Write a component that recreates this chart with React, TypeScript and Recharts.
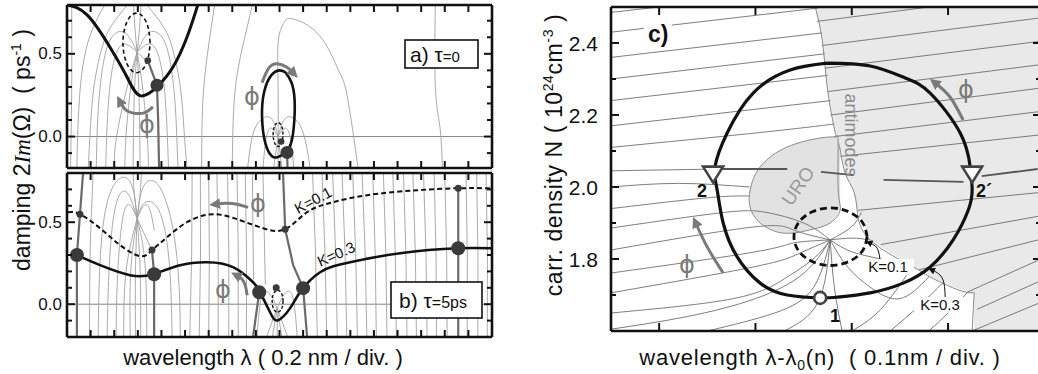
import React from "react";
import { Area, ComposedChart, Line, ReferenceLine, Scatter, XAxis, YAxis } from "recharts";

type P = number[];
const pts = (a: P[]) => a.map(([x, y]) => ({ x, y }));
const rng = (a: P[]) => a.map(([x, lo, hi]) => ({ x, r: [lo, hi] }));

const FONT = "'Liberation Sans', Arial, sans-serif";
const GREY_PHI = "#7a7a7a";

// ---------- ticks ----------
const abXTicks = [1, 2, 3, 4, 5, 6, 7, 8, 9, 10, 11, 12, 13, 14, 15, 16, 17];
const abYTicks = [-0.1, 0, 0.1, 0.2, 0.3, 0.4, 0.5, 0.6, 0.7];
const abYLabels = [0, 0.5];
const cXTicks = [1, 2, 3, 4];
const cYTicks = [1.7, 1.8, 1.9, 2.0, 2.1, 2.2, 2.3, 2.4];
const cYLabels = [1.8, 2.0, 2.2, 2.4];

// ---------- panel a (tau = 0) ----------
const aMain: P[] = [[0, 0.795], [0.85, 0.735], [1.82, 0.54], [2.54, 0.36], [3.09, 0.247], [3.81, 0.3], [4.49, 0.42], [5.08, 0.6], [5.55, 0.8]];
const aDashLoop: P[] = [[3.52, 0.566], [3.44, 0.656], [3.23, 0.722], [2.945, 0.746], [2.66, 0.722], [2.45, 0.656], [2.37, 0.566], [2.45, 0.476], [2.66, 0.41], [2.945, 0.386], [3.23, 0.41], [3.44, 0.476], [3.52, 0.566]];
const aSolidLoop: P[] = [[9.24, 0.39], [9.5, 0.33], [9.64, 0.22], [9.6, 0.05], [9.4, -0.07], [9.0, -0.12], [8.69, -0.12], [8.4, -0.04], [8.26, 0.12], [8.35, 0.27], [8.65, 0.37], [9.0, 0.4], [9.24, 0.39]];
const aSmallLoop: P[] = [[9.15, 0.012], [9.12, 0.048], [9.045, 0.074], [8.94, 0.084], [8.835, 0.074], [8.76, 0.048], [8.73, 0.012], [8.76, -0.024], [8.835, -0.05], [8.94, -0.06], [9.045, -0.05], [9.12, -0.024], [9.15, 0.012]];
const aBigDots: P[] = [[3.81, 0.31], [9.32, -0.096]];
const aSmallDots: P[] = [[3.42, 0.46], [9.07, -0.03]];
const aGreyThick: P[][] = [
  [[3.42, 0.46], [3.81, 0.31], [3.86, 0.1], [3.9, -0.19]],
  [[9.32, -0.096], [9.34, -0.19]],
];
const aContours: P[][] = [
  [[0.2, 0.8], [0.2, 0.3], [0.15, -0.19]],
  [[2.97, 0.51], [2.62, 0.55], [2.28, 0.55], [1.98, 0.45], [1.78, 0.25], [1.68, 0.0], [1.64, -0.19]],
  [[2.97, 0.51], [2.52, 0.62], [2.02, 0.62], [1.62, 0.5], [1.37, 0.25], [1.27, 0.0], [1.24, -0.19]],
  [[2.55, 0.795], [1.84, 0.66], [1.45, 0.52], [1.14, 0.3], [0.99, 0.05], [0.9, -0.19]],
  [[1.6, 0.795], [1.0, 0.62], [0.6, 0.35], [0.45, 0.0], [0.42, -0.19]],
  [[2.97, 0.51], [3.3, 0.55], [3.65, 0.55], [3.95, 0.45], [4.15, 0.25], [4.25, 0.0], [4.3, -0.19]],
  [[2.97, 0.51], [3.4, 0.62], [3.9, 0.62], [4.3, 0.5], [4.55, 0.25], [4.65, 0.0], [4.7, -0.19]],
  [[3.39, 0.795], [4.1, 0.66], [4.49, 0.52], [4.8, 0.3], [4.95, 0.05], [5.08, -0.19]],
  [[2.97, 0.51], [2.88, 0.65], [2.82, 0.795]],
  [[2.97, 0.51], [3.07, 0.65], [3.13, 0.795]],
  [[2.97, 0.51], [2.55, 0.3], [2.1, 0.0], [2.0, -0.19]],
  [[2.97, 0.51], [2.7, 0.3], [2.5, 0.0], [2.45, -0.19]],
  [[2.97, 0.51], [2.85, 0.25], [2.8, -0.19]],
  [[2.97, 0.51], [3.05, 0.25], [3.1, -0.19]],
  [[2.97, 0.51], [3.2, 0.3], [3.4, 0.0], [3.45, -0.19]],
  [[2.97, 0.51], [3.2, 0.48], [3.42, 0.46]],
  [[5.7, -0.19], [5.75, 0.2], [5.95, 0.5], [6.25, 0.795]],
  [[7.0, -0.19], [7.1, 0.25], [7.45, 0.55], [7.85, 0.795]],
  [[8.94, -0.19], [8.94, 0.3], [8.95, 0.58], [9.2, 0.69], [9.6, 0.71], [10.7, 0.61], [11.5, 0.4], [11.86, 0.25], [12.33, -0.19]],
  [[8.94, 0.0], [9.25, 0.11], [9.7, 0.1], [10.05, 0.0], [10.3, -0.19]],
  [[8.94, 0.0], [8.65, 0.11], [8.2, 0.1], [7.85, 0.0], [7.65, -0.19]],
  [[8.94, 0.0], [9.2, 0.05], [9.45, 0.0], [9.6, -0.19]],
  [[8.94, 0.0], [8.68, 0.05], [8.45, 0.0], [8.3, -0.19]],
  [[8.94, 0.0], [8.75, -0.19]],
  [[8.94, 0.0], [9.1, -0.19]],
  [[15.6, 0.795], [15.6, 0.3], [15.8, 0.05], [15.9, -0.19]],
];
const aArrows: P[][] = [
  [[8.26, 0.325], [8.55, 0.415], [8.9, 0.44], [9.3, 0.42], [9.58, 0.385]],
  [[3.64, 0.18], [3.3, 0.145], [2.9, 0.14], [2.5, 0.16], [2.25, 0.21]],
];

// ---------- panel b (tau = 5 ps) ----------
const bK01: P[] = [[0.04, 0.561], [0.55, 0.549], [1.4, 0.463], [2.25, 0.36], [3.09, 0.293], [3.6, 0.329], [4.24, 0.409], [5.08, 0.5], [6.19, 0.549], [7.33, 0.512], [8.31, 0.463], [9.24, 0.457], [10.17, 0.561], [11.27, 0.622], [12.71, 0.665], [14.83, 0.695], [16.57, 0.707], [18.0, 0.707]];
const bK03: P[] = [[0.42, 0.299], [1.4, 0.238], [2.67, 0.177], [3.64, 0.183], [4.79, 0.238], [5.93, 0.256], [7.03, 0.226], [7.88, 0.134], [8.18, 0.073], [8.6, -0.049], [8.94, -0.098], [9.45, -0.024], [9.87, 0.073], [10.72, 0.195], [11.99, 0.256], [14.11, 0.311], [16.57, 0.341], [18.0, 0.341]];
const bSmallLoop: P[] = [[9.15, 0.018], [9.12, 0.052], [9.035, 0.076], [8.92, 0.085], [8.805, 0.076], [8.72, 0.052], [8.69, 0.018], [8.72, -0.016], [8.805, -0.04], [8.92, -0.049], [9.035, -0.04], [9.12, -0.016], [9.15, 0.018]];
const bBigDots: P[] = [[0.42, 0.3], [3.69, 0.183], [8.14, 0.073], [10.0, 0.098], [16.57, 0.341]];
const bSmallDots: P[] = [[0.55, 0.549], [3.6, 0.33], [9.24, 0.457], [16.57, 0.707], [8.86, 0.1]];
const bGreyThick: P[][] = [
  [[0.68, 0.8], [0.55, 0.549], [0.42, 0.3], [0.42, -0.2]],
  [[3.6, 0.33], [3.69, 0.183], [3.69, -0.2]],
  [[9.15, 0.8], [9.24, 0.457], [9.58, 0.238], [10.0, 0.098], [10.17, -0.2]],
  [[16.57, 0.707], [16.57, 0.341], [16.57, -0.2]],
  [[8.14, 0.073], [7.88, -0.2]],
];
const bContours: P[][] = [
  [[2.97, 0.524], [2.7, 0.6], [2.45, 0.58], [2.25, 0.4], [2.12, 0.1], [2.08, -0.2]],
  [[2.97, 0.524], [2.6, 0.67], [2.2, 0.66], [1.9, 0.45], [1.75, 0.1], [1.7, -0.2]],
  [[2.97, 0.524], [2.7, 0.74], [2.1, 0.75], [1.6, 0.55], [1.38, 0.2], [1.32, -0.2]],
  [[2.97, 0.524], [3.25, 0.6], [3.5, 0.58], [3.7, 0.45]],
  [[2.97, 0.524], [3.3, 0.62], [3.9, 0.57], [4.3, 0.3], [4.42, 0.0], [4.45, -0.2]],
  [[2.97, 0.524], [3.25, 0.72], [3.9, 0.72], [4.5, 0.45], [4.75, 0.1], [4.8, -0.2]],
  [[2.97, 0.524], [2.85, 0.68], [2.8, 0.8]],
  [[2.97, 0.524], [3.1, 0.68], [3.15, 0.8]],
  [[2.97, 0.524], [2.5, 0.2], [2.4, -0.2]],
  [[2.97, 0.524], [2.7, 0.2], [2.68, -0.2]],
  [[2.97, 0.524], [2.9, 0.2], [2.9, -0.2]],
  [[2.97, 0.524], [3.1, 0.2], [3.12, -0.2]],
  [[2.97, 0.524], [3.3, 0.25], [3.38, -0.2]],
  [[2.97, 0.524], [3.3, 0.42], [3.6, 0.33]],
  [[0.95, -0.2], [0.98, 0.3], [1.05, 0.6], [1.1, 0.8]],
  [[8.9, -0.024], [8.6, 0.06], [8.25, 0.05], [8.05, -0.2]],
  [[8.9, -0.024], [9.2, 0.06], [9.55, 0.05], [9.75, -0.2]],
  [[8.9, -0.024], [8.7, -0.2]],
  [[8.9, -0.024], [8.9, -0.2]],
  [[8.9, -0.024], [9.1, -0.2]],
  [[8.9, -0.024], [8.45, -0.2]],
  [[8.9, -0.024], [9.35, -0.2]],
  [[7.9, 0.15], [7.85, 0.8]],
  [[8.4, 0.12], [8.3, 0.8]],
];
// near-vertical contour lines: [x at bottom, x at top]
const bVerticals: P[] = [
  [5.2, 5.3], [5.6, 5.65], [6.0, 6.0], [6.4, 6.35], [6.85, 6.8], [7.25, 7.2], [7.6, 7.55],
  [10.6, 10.4], [11.0, 10.8], [11.45, 11.25], [11.85, 11.65], [12.3, 12.1], [12.7, 12.5], [13.1, 12.95],
  [13.55, 13.4], [13.95, 13.8], [14.4, 14.25], [14.8, 14.65], [15.25, 15.1], [15.65, 15.55], [16.1, 16.0],
  [16.95, 16.9], [17.4, 17.35], [17.8, 17.75],
];
const bArrows: P[][] = [
  [[7.67, 0.59], [7.2, 0.61], [6.7, 0.615], [6.3, 0.61]],
  [[7.63, 0.055], [7.55, 0.115], [7.4, 0.155], [7.2, 0.175]],
];

// ---------- panel c (carrier density) ----------
const cShade = rng([
  [2.62, 2.5, 2.5], [2.693, 2.408, 2.5], [2.745, 2.278, 2.5], [2.807, 2.178, 2.5], [2.838, 2.139, 2.5],
  [2.88, 2.103, 2.5], [2.931, 2.039, 2.5], [3.015, 1.992, 2.5], [3.056, 1.936, 2.5], [3.191, 1.853, 2.5],
  [3.638, 1.778, 2.5], [3.814, 1.75, 2.5], [4.178, 1.708, 2.5], [4.27, 1.7, 2.5], [4.271, 1.6, 2.5], [4.965, 1.6, 2.5],
]);
const cUroShade = rng([
  [1.94, 1.944, 1.992], [2.049, 1.9, 2.056], [2.288, 1.872, 2.105], [2.568, 1.881, 2.131],
  [2.776, 1.9, 2.139], [2.86, 1.93, 2.135], [2.88, 1.936, 2.11],
]);
const cEdges: P[][] = [
  [[2.62, 2.5], [2.693, 2.408], [2.745, 2.278], [2.807, 2.178], [2.838, 2.139]],
  [[2.838, 2.139], [2.672, 2.136], [2.329, 2.111], [2.049, 2.056], [1.945, 1.992], [1.945, 1.944], [2.049, 1.9], [2.288, 1.872], [2.568, 1.881], [2.776, 1.9], [2.88, 1.936], [2.859, 1.992], [2.859, 2.122], [2.838, 2.139]],
  [[2.859, 2.122], [2.88, 2.103], [2.931, 2.039], [3.015, 1.992], [3.056, 1.936], [3.191, 1.853], [3.638, 1.778], [3.814, 1.75], [4.178, 1.708], [4.27, 1.7], [4.25, 1.6]],
];
const cContours: P[][] = [
  [[0.5, 2.485], [1.0, 2.5]],
  [[0.5, 2.43], [2.65, 2.497]],
  [[0.5, 2.36], [2.69, 2.428]],
  [[0.5, 2.3], [2.72, 2.37]],
  [[0.5, 2.24], [2.75, 2.31]],
  [[0.5, 2.17], [2.78, 2.24]],
  [[0.5, 2.11], [2.0, 2.15], [2.82, 2.175]],
  [[0.5, 2.045], [1.63, 2.05]],
  [[0.5, 2.0], [1.2, 2.01], [1.94, 2.0]],
  [[0.5, 1.94], [1.5, 1.97], [1.94, 1.975]],
  [[0.5, 1.886], [1.63, 1.928], [2.1, 1.93], [2.5, 1.9], [2.776, 1.853]],
  [[0.5, 1.825], [1.98, 1.889], [2.4, 1.88], [2.776, 1.853]],
  [[0.5, 1.761], [2.0, 1.82], [2.4, 1.845], [2.776, 1.853]],
  [[0.5, 1.706], [1.98, 1.778], [2.45, 1.815], [2.776, 1.853]],
  [[0.5, 1.65], [1.77, 1.69], [2.3, 1.745], [2.6, 1.8], [2.776, 1.853]],
  [[0.5, 1.605], [1.29, 1.64], [2.0, 1.69], [2.5, 1.76], [2.776, 1.853]],
  [[1.5, 1.6], [2.2, 1.65], [2.6, 1.72], [2.776, 1.853]],
  [[2.3, 1.6], [2.65, 1.68], [2.776, 1.853]],
  [[2.9, 1.6], [2.82, 1.72], [2.776, 1.853]],
  [[2.776, 1.853], [3.0, 1.89], [3.1, 1.93]],
  [[2.776, 1.853], [3.0, 1.858], [3.19, 1.853]],
  [[2.776, 1.853], [3.0, 1.82], [3.3, 1.8], [3.6, 1.778]],
  [[2.776, 1.853], [2.95, 1.78], [3.2, 1.72], [3.5, 1.69], [3.8, 1.75]],
  [[3.0, 1.6], [3.3, 1.66], [3.62, 1.775]],
  [[3.4, 1.6], [3.7, 1.67], [3.95, 1.735]],
  [[3.8, 1.6], [4.0, 1.65], [4.2, 1.707]],
  [[2.64, 2.46], [3.8, 2.5]],
  [[2.69, 2.393], [4.965, 2.47]],
  [[2.72, 2.33], [4.965, 2.405]],
  [[2.75, 2.265], [4.965, 2.34]],
  [[2.78, 2.2], [4.965, 2.275]],
  [[2.82, 2.14], [4.965, 2.21]],
  [[2.88, 2.085], [4.965, 2.145]],
  [[3.06, 1.935], [4.965, 1.985]],
  [[3.3, 1.84], [4.965, 1.92]],
  [[3.7, 1.77], [4.965, 1.855]],
  [[4.2, 1.708], [4.965, 1.8]],
  [[4.3, 1.66], [4.965, 1.74]],
  [[4.25, 1.6], [4.965, 1.68]],
];
const cModeLine: P[][] = [
  [[1.63, 2.05], [2.33, 2.05]],
  [[2.68, 2.042], [3.02, 2.033]],
  [[3.33, 2.02], [4.16, 2.014]],
  [[4.35, 2.03], [4.93, 2.05]],
];
const cCircle: P[] = [[2.745, 2.344], [3.191, 2.336], [3.555, 2.303], [3.814, 2.261], [4.126, 2.15], [4.23, 2.056], [4.25, 1.992], [4.21, 1.936], [4.053, 1.853], [3.814, 1.778], [3.534, 1.733], [3.191, 1.706], [2.848, 1.694], [2.672, 1.692], [2.329, 1.7], [2.049, 1.733], [1.81, 1.806], [1.665, 1.9], [1.602, 1.992], [1.58, 2.056], [1.706, 2.15], [1.976, 2.261], [2.36, 2.325], [2.745, 2.344]];
const cDashLoop: P[] = [[3.16, 1.862], [3.11, 1.902], [2.97, 1.931], [2.78, 1.942], [2.59, 1.931], [2.45, 1.902], [2.4, 1.862], [2.45, 1.822], [2.59, 1.793], [2.78, 1.782], [2.97, 1.793], [3.11, 1.822], [3.16, 1.862]];
const cTriangles: P[] = [[1.56, 2.04], [4.25, 2.04]];
const cStart: P[] = [[2.672, 1.692]];
const cPhiArrows: P[][] = [
  [[1.665, 1.761], [1.5, 1.833], [1.38, 1.9]],
  [[4.157, 2.186], [4.02, 2.25], [3.866, 2.289]],
];
const cKArrows: P[][] = [
  [[3.295, 1.792], [3.264, 1.83], [3.17, 1.846]],
  [[3.97, 1.694], [3.94, 1.747], [3.82, 1.771]],
];

// ---------- helpers ----------
function tick(side: string, len: number, majorLen: number, majors: number[], label?: { size: number; gap: number }) {
  return (p: any) => {
    const v = p.payload.value;
    const major = majors.includes(v);
    const l = major ? majorLen : len;
    const { x, y } = p;
    let x2 = x;
    let y2 = y;
    if (side === "left") x2 = x + l;
    else if (side === "right") x2 = x - l;
    else if (side === "top") y2 = y + l;
    else y2 = y - l;
    return (
      <g>
        <line x1={x} y1={y} x2={x2} y2={y2} stroke="#111" strokeWidth={2} />
        {label && major ? (
          <text x={x - label.gap} y={y} textAnchor="end" dominantBaseline="central" fontSize={label.size} fontFamily={FONT} fill="#111">
            {v.toFixed(1)}
          </text>
        ) : null}
      </g>
    );
  };
}

const frame = { stroke: "#111", strokeWidth: 2.6 };

// axes are 1px wide/high (a 0 size is not drawn); chart margins are reduced by that 1px
function axes(xd: number[], yd: number[], xt: number[], yt: number[], yl: number[], xLen: number, yLen: number, yMajor: number, lab: { size: number; gap: number }) {
  const common = { type: "number" as const, allowDataOverflow: true, interval: 0 as const, tickSize: 0, tickMargin: 0, tickLine: false, axisLine: frame };
  return [
    <XAxis key="xb" xAxisId={0} dataKey="x" domain={xd} ticks={xt} height={1} tick={tick("bottom", xLen, xLen, [])} {...common} />,
    <XAxis key="xt" xAxisId="t" orientation="top" dataKey="x" domain={xd} ticks={xt} height={1} tick={tick("top", xLen, xLen, [])} {...common} />,
    <YAxis key="yl" yAxisId={0} dataKey="y" domain={yd} ticks={yt} width={1} tick={tick("left", yLen, yMajor, yl, lab)} {...common} />,
    <YAxis key="yr" yAxisId="r" orientation="right" dataKey="y" domain={yd} ticks={yt} width={1} tick={tick("right", yLen, yMajor, yl)} {...common} />,
  ];
}

function lines(set: P[][], stroke: string, width: number, prefix: string, type: any = "natural", extra: any = {}) {
  return set.map((s, i) => (
    <Line key={prefix + i} data={pts(s)} dataKey="y" type={type} stroke={stroke} strokeWidth={width} dot={false} activeDot={false} isAnimationActive={false} {...extra} />
  ));
}

const dotShape = (r: number, fill: string, stroke = "none", sw = 0) => (p: any) => <circle cx={p.cx} cy={p.cy} r={r} fill={fill} stroke={stroke} strokeWidth={sw} />;
const triShape = (p: any) => (
  <path d={`M${p.cx - 10},${p.cy - 6} L${p.cx + 10},${p.cy - 6} L${p.cx},${p.cy + 10} Z`} fill="#fff" stroke="#444" strokeWidth={2.6} strokeLinejoin="miter" />
);

const CONTOUR = "#a0a0a0";
const CHART_STYLE: React.CSSProperties = { position: "absolute", left: 0, top: 0 };

function PanelA() {
  return (
    <div style={CHART_STYLE}>
      <ComposedChart width={1038} height={374} margin={{ top: 4, left: 66, right: 545, bottom: 205 }}>
        {axes([0, 18], [-0.19, 0.795], abXTicks, abYTicks, abYLabels, 7, 5, 8, { size: 17, gap: 5 })}
        <ReferenceLine y={0} stroke="#777" strokeWidth={0.9} />
        {lines(aContours, CONTOUR, 0.9, "ac")}
        {lines(aGreyThick, "#6a6a6a", 2.2, "ag", "linear")}
        <Line data={pts(aMain)} dataKey="y" type="natural" stroke="#111" strokeWidth={3} dot={false} activeDot={false} isAnimationActive={false} />
        <Line data={pts(aDashLoop)} dataKey="y" type="natural" stroke="#111" strokeWidth={1.6} strokeDasharray="4 3" dot={false} activeDot={false} isAnimationActive={false} />
        <Line data={pts(aSolidLoop)} dataKey="y" type="natural" stroke="#111" strokeWidth={2.6} dot={false} activeDot={false} isAnimationActive={false} />
        <Line data={pts(aSmallLoop)} dataKey="y" type="natural" stroke="#111" strokeWidth={1.4} strokeDasharray="3 2" dot={false} activeDot={false} isAnimationActive={false} />
        {lines(aArrows, GREY_PHI, 3, "aa", "natural", { markerEnd: "url(#headGrey)" })}
        <Scatter data={pts(aBigDots)} shape={dotShape(6.5, "#3a3a3a")} isAnimationActive={false} />
        <Scatter data={pts(aSmallDots)} shape={dotShape(3.3, "#3a3a3a")} isAnimationActive={false} />
      </ComposedChart>
    </div>
  );
}

function PanelB() {
  const verts: P[][] = bVerticals.map(([b, t]) => [[b, -0.2], [(b + t) / 2 + 0.03, 0.3], [t, 0.8]]);
  return (
    <div style={CHART_STYLE}>
      <ComposedChart width={1038} height={374} margin={{ top: 172, left: 66, right: 545, bottom: 36 }}>
        {axes([0, 18], [-0.2, 0.8], abXTicks, abYTicks, abYLabels, 7, 5, 8, { size: 17, gap: 5 })}
        <ReferenceLine y={0} stroke="#777" strokeWidth={0.9} />
        {lines(verts, CONTOUR, 0.9, "bv", "linear")}
        {lines(bContours, CONTOUR, 0.9, "bc")}
        {lines(bGreyThick, "#6a6a6a", 2.2, "bg", "linear")}
        <Line data={pts(bK01)} dataKey="y" type="natural" stroke="#111" strokeWidth={2} strokeDasharray="5 3" dot={false} activeDot={false} isAnimationActive={false} />
        <Line data={pts(bK03)} dataKey="y" type="natural" stroke="#111" strokeWidth={2.6} dot={false} activeDot={false} isAnimationActive={false} />
        <Line data={pts(bSmallLoop)} dataKey="y" type="natural" stroke="#111" strokeWidth={1.4} strokeDasharray="3 2" dot={false} activeDot={false} isAnimationActive={false} />
        {lines(bArrows, GREY_PHI, 3, "ba", "natural", { markerEnd: "url(#headGrey)" })}
        <Scatter data={pts(bBigDots)} shape={dotShape(7, "#3a3a3a")} isAnimationActive={false} />
        <Scatter data={pts(bSmallDots)} shape={dotShape(3.5, "#3a3a3a")} isAnimationActive={false} />
      </ComposedChart>
    </div>
  );
}

function PanelC() {
  return (
    <div style={CHART_STYLE}>
      <ComposedChart width={1044} height={374} margin={{ top: 6, left: 610, right: 2, bottom: 42 }}>
        {axes([0.5, 4.965], [1.6, 2.5], cXTicks, cYTicks, cYLabels, 8, 5, 8, { size: 21, gap: 13 })}
        <Area data={cShade} dataKey="r" type="linear" fill="#e9e9e9" fillOpacity={1} stroke="none" isAnimationActive={false} />
        <Area data={cUroShade} dataKey="r" type="natural" fill="#e2e2e2" fillOpacity={1} stroke="none" isAnimationActive={false} />
        {lines(cContours, "#6e6e6e", 0.9, "cc", "natural")}
        {lines(cEdges, "#8a8a8a", 1, "ce", "natural")}
        {lines(cModeLine, "#555", 1.8, "cm", "linear")}
        <Line data={pts(cCircle)} dataKey="y" type="natural" stroke="#111" strokeWidth={3.2} dot={false} activeDot={false} isAnimationActive={false} />
        <Line data={pts(cDashLoop)} dataKey="y" type="natural" stroke="#111" strokeWidth={2.8} strokeDasharray="7 4" dot={false} activeDot={false} isAnimationActive={false} />
        {lines(cPhiArrows, GREY_PHI, 3, "cp", "natural", { markerEnd: "url(#headGrey)" })}
        {lines(cKArrows, "#111", 1, "ck", "natural", { markerEnd: "url(#headBlack)" })}
        <Scatter data={pts(cTriangles)} shape={triShape} isAnimationActive={false} />
        <Scatter data={pts(cStart)} shape={dotShape(6, "#fff", "#444", 2.6)} isAnimationActive={false} />
      </ComposedChart>
    </div>
  );
}

function Overlay() {
  const t = { fontFamily: FONT, fill: "#111" } as const;
  const phi = { fontFamily: "'DejaVu Sans', sans-serif", fontSize: 24, fill: GREY_PHI, textAnchor: "middle" as const };
  return (
    <svg width={1038} height={374} style={{ position: "absolute", left: 0, top: 0, pointerEvents: "none" }}>
      <defs>
        <marker id="headGrey" viewBox="0 0 10 10" refX="4" refY="5" markerWidth="11" markerHeight="11" markerUnits="userSpaceOnUse" orient="auto">
          <path d="M0,0 L10,5 L0,10 z" fill={GREY_PHI} />
        </marker>
        <marker id="headBlack" viewBox="0 0 10 10" refX="6" refY="5" markerWidth="7" markerHeight="7" markerUnits="userSpaceOnUse" orient="auto">
          <path d="M0,0 L10,5 L0,10 z" fill="#111" />
        </marker>
      </defs>

      {/* axis titles */}
      <text {...t} fontSize={23} textAnchor="middle" transform="translate(30,150) rotate(-90)" style={{ whiteSpace: "pre" }}>
        damping 2<tspan fontStyle="italic" fontFamily="'Liberation Serif', serif">Im</tspan>(Ω)  ( ps<tspan dy={-9} fontSize={14}>-1</tspan><tspan dy={9}> )</tspan>
      </text>
      <text {...t} fontSize={22} x={263} y={365} textAnchor="middle">wavelength λ ( 0.2 nm / div. )</text>
      <text {...t} fontSize={23} letterSpacing={0.6} textAnchor="middle" transform="translate(562,155) rotate(-90)" style={{ whiteSpace: "pre" }}>
        carr. density N ( 10<tspan dy={-9} fontSize={14}>24</tspan><tspan dy={9}>cm</tspan><tspan dy={-9} fontSize={14}>-3</tspan><tspan dy={9}> )</tspan>
      </text>
      <text {...t} fontSize={22} letterSpacing={0.8} x={820} y={365} textAnchor="middle" style={{ whiteSpace: "pre" }}>
        wavelength λ-λ<tspan dy={5} fontSize={14}>0</tspan><tspan dy={-5}>(n)  ( 0.1nm / div. )</tspan>
      </text>

      {/* panel boxes */}
      <rect x={405} y={40} width={73} height={28} fill="#fff" stroke="#111" strokeWidth={1.6} />
      <text {...t} x={410} y={62} fontSize={21}>a) τ<tspan fontSize={15}>=0</tspan></text>
      <rect x={391} y={282} width={91} height={36} fill="#fff" stroke="#111" strokeWidth={1.6} />
      <text {...t} x={399} y={308} fontSize={21}>b) τ<tspan fontSize={16}>=5ps</tspan></text>

      {/* phi labels */}
      <text {...phi} x={252} y={105}>ϕ</text>
      <text {...phi} x={147} y={133}>ϕ</text>
      <text {...phi} x={258} y={212}>ϕ</text>
      <text {...phi} x={223} y={298}>ϕ</text>
      <text {...phi} x={687} y={273}>ϕ</text>
      <text {...phi} x={966} y={98}>ϕ</text>

      {/* K labels panel b */}
      <text {...t} fontSize={15} textAnchor="middle" dominantBaseline="central" transform="translate(313,200) rotate(-28)">K=0.1</text>
      <text {...t} fontSize={15} textAnchor="middle" dominantBaseline="central" transform="translate(336,254) rotate(-24)">K=0.3</text>

      {/* panel c labels */}
      <rect x={644} y={21} width={28} height={25} fill="#fff" />
      <text {...t} x={648} y={42} fontSize={23} fontWeight="bold">c)</text>
      <text {...t} x={702} y={197} fontSize={18} fontWeight="bold" textAnchor="middle">2</text>
      <text {...t} x={984} y={197} fontSize={18} fontWeight="bold" textAnchor="middle">2´</text>
      <text {...t} x={835} y={322} fontSize={18} fontWeight="bold" textAnchor="middle">1</text>
      <text fontFamily={FONT} fill="#8a8a8a" fontSize={18} textAnchor="middle" dominantBaseline="central" transform="translate(851,135) rotate(90)">antimodes</text>
      <text fontFamily={FONT} fill="#9a9a9a" fontSize={19} textAnchor="middle" dominantBaseline="central" transform="translate(798,186) rotate(-55)">URO</text>
      <rect x={862} y={259} width={52} height={16} fill="#fff" />
      <text {...t} x={888} y={272} fontSize={15} textAnchor="middle">K=0.1</text>
      <rect x={914} y={297} width={53} height={16} fill="#fff" />
      <text {...t} x={940} y={310} fontSize={15} textAnchor="middle">K=0.3</text>
    </svg>
  );
}

export default function App() {
  return (
    <div style={{ position: "absolute", left: 0, top: 0, width: 1038, height: 374, overflow: "hidden", background: "#fff" }}>
      <PanelA />
      <PanelB />
      <PanelC />
      <Overlay />
    </div>
  );
}
